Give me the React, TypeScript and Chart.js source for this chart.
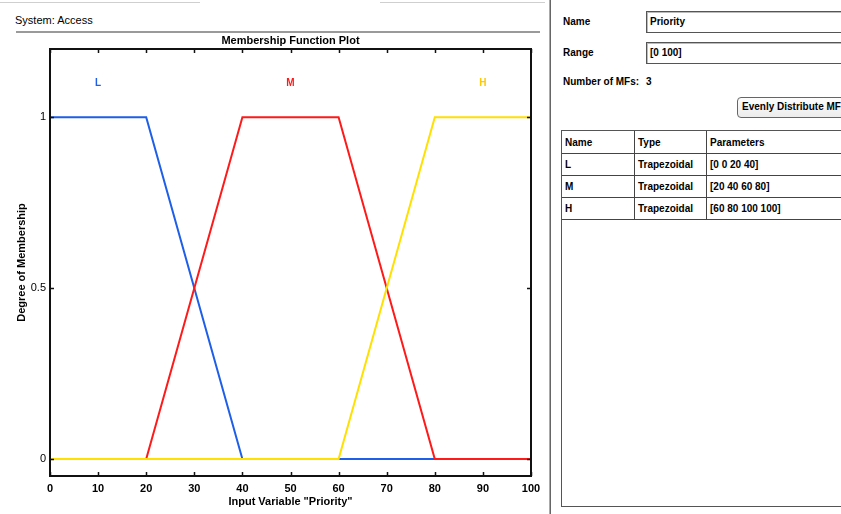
import React, { useEffect, useRef } from "react";
import { Chart, registerables } from "chart.js";

Chart.register(...registerables);

// ---- data ----
const xValues = [0, 20, 40, 60, 80, 100];
const lowValues = [1, 1, 0, 0, 0, 0];
const mediumValues = [0, 0, 1, 1, 0, 0];
const highValues = [0, 0, 0, 0, 1, 1];
const mfNames = ["L", "M", "H"];
const mfLabelX = [10, 50, 90];
const mfLabelY = 1.1;
const yTickValues = [0, 0.5, 1];
const mfTypes = ["Trapezoidal", "Trapezoidal", "Trapezoidal"];
const mfParams = ["[0 0 20 40]", "[20 40 60 80]", "[60 80 100 100]"];

const mfColors = ["#1f5fe8", "#ff1a1a", "#ffe000"];
const mfLabelColors = ["#1f5fe8", "#ff1a1a", "#ffc800"];
const FONT = "'Liberation Sans', Arial, sans-serif";

const boxPlugin = {
  id: "matlabBox",
  afterDatasetsDraw(chart: any) {
    const { ctx, chartArea: a, scales } = chart;
    const xs = scales.x;
    const ys = scales.y;
    ctx.save();
    ctx.strokeStyle = "#111";
    ctx.lineWidth = 2;
    ctx.strokeRect(a.left, a.top, a.right - a.left, a.bottom - a.top);
    ctx.lineWidth = 1.5;
    const tl = 4;
    xs.ticks.forEach((t: any) => {
      const px = Math.round(xs.getPixelForValue(t.value)) + 0.5;
      ctx.beginPath();
      ctx.moveTo(px, a.bottom);
      ctx.lineTo(px, a.bottom - tl);
      ctx.moveTo(px, a.top);
      ctx.lineTo(px, a.top + tl);
      ctx.stroke();
    });
    ys.ticks.forEach((t: any) => {
      const py = Math.round(ys.getPixelForValue(t.value)) + 0.5;
      ctx.beginPath();
      ctx.moveTo(a.left, py);
      ctx.lineTo(a.left + tl, py);
      ctx.moveTo(a.right, py);
      ctx.lineTo(a.right - tl, py);
      ctx.stroke();
    });
    // title
    ctx.fillStyle = "#000";
    ctx.font = `bold 11px ${FONT}`;
    ctx.textAlign = "center";
    ctx.textBaseline = "middle";
    ctx.fillText("Membership Function Plot", (a.left + a.right) / 2, 41);
    // MF labels
    mfNames.forEach((n, i) => {
      ctx.fillStyle = mfLabelColors[i];
      ctx.font = `bold 10px ${FONT}`;
      ctx.fillText(n, xs.getPixelForValue(mfLabelX[i]), ys.getPixelForValue(mfLabelY));
    });
    ctx.restore();
  },
};

function MFChart() {
  const ref = useRef<HTMLCanvasElement | null>(null);
  useEffect(() => {
    if (!ref.current) return;
    const mk = (vals: number[]) => xValues.map((x, i) => ({ x, y: vals[i] }));
    const chart = new Chart(ref.current, {
      type: "line",
      data: {
        datasets: [
          { label: mfNames[0], data: mk(lowValues), borderColor: mfColors[0], borderWidth: 2, pointRadius: 0, order: 3 },
          { label: mfNames[1], data: mk(mediumValues), borderColor: mfColors[1], borderWidth: 2, pointRadius: 0, order: 2 },
          { label: mfNames[2], data: mk(highValues), borderColor: mfColors[2], borderWidth: 2, pointRadius: 0, order: 1 },
        ],
      },
      options: {
        animation: false,
        responsive: false,
        devicePixelRatio: 1,
        layout: { padding: { top: 49, right: 19, left: 0, bottom: 0 } },
        plugins: { legend: { display: false }, tooltip: { enabled: false }, title: { display: false } },
        scales: {
          x: {
            type: "linear",
            min: 0,
            max: 100,
            grid: { display: false, drawTicks: false },
            border: { display: false },
            ticks: { stepSize: 10, color: "#000", font: { family: FONT, size: 11, weight: "bold" }, padding: 6, maxRotation: 0 },
            title: {
              display: true,
              text: 'Input Variable "Priority"',
              color: "#000",
              font: { family: FONT, size: 11, weight: "bold" },
              padding: { top: 0, bottom: 5 },
            },
            afterFit: (s: any) => {
              s.height = 38;
            },
          },
          y: {
            type: "linear",
            min: -0.05,
            max: 1.2,
            grid: { display: false, drawTicks: false },
            border: { display: false },
            afterBuildTicks: (s: any) => {
              s.ticks = yTickValues.map((v) => ({ value: v }));
            },
            ticks: {
              color: "#000",
              font: { family: FONT, size: 11 },
              padding: 4,
              callback: (v: any) => String(v),
            },
            title: {
              display: true,
              text: "Degree of Membership",
              color: "#000",
              font: { family: FONT, size: 11, weight: "bold" },
              padding: { top: 15, bottom: 0 },
            },
            afterFit: (s: any) => {
              s.width = 50;
            },
          },
        },
      },
      plugins: [boxPlugin],
    } as any);
    return () => chart.destroy();
  }, []);
  return <canvas ref={ref} width={550} height={514} style={{ position: "absolute", left: 0, top: 0 }} />;
}

const txt: React.CSSProperties = {
  position: "absolute",
  fontFamily: FONT,
  fontSize: 10,
  fontWeight: "bold",
  color: "#000",
  lineHeight: "12px",
  whiteSpace: "nowrap",
};

export default function App() {
  const cell: React.CSSProperties = {
    border: "1px solid #444",
    padding: "0 3px",
    height: 21,
    fontFamily: FONT,
    fontSize: 10,
    fontWeight: "bold",
    textAlign: "left",
    whiteSpace: "nowrap",
  };
  return (
    <div
      style={{
        position: "fixed",
        left: 0,
        top: 0,
        width: 841,
        height: 514,
        background: "#fff",
        overflow: "hidden",
      }}
    >
      {/* top faint lines */}
      <div style={{ position: "absolute", left: 0, top: 2, width: 200, height: 1, background: "#cfcfcf" }} />
      <div style={{ position: "absolute", left: 380, top: 2, width: 165, height: 1, background: "#cfcfcf" }} />
      <div style={{ ...txt, left: 15, top: 14, fontSize: 11, fontWeight: "normal" }}>System: Access</div>
      <div style={{ position: "absolute", left: 16, top: 31, width: 524, height: 2, background: "#9a9a9a" }} />
      <MFChart />
      {/* divider */}
      <div style={{ position: "absolute", left: 549, top: 0, width: 1, height: 514, background: "#aaa" }} />
      <div style={{ position: "absolute", left: 550, top: 0, width: 1, height: 514, background: "#666" }} />
      {/* right panel */}
      <div style={{ ...txt, left: 563, top: 16 }}>Name</div>
      <div
        style={{
          position: "absolute",
          left: 646,
          top: 11,
          width: 220,
          height: 20,
          border: "1px solid #555",
          boxShadow: "inset 1px 1px 0 #bbb",
        }}
      >
        <div style={{ ...txt, left: 3, top: 4 }}>Priority</div>
      </div>
      <div style={{ ...txt, left: 563, top: 47 }}>Range</div>
      <div
        style={{
          position: "absolute",
          left: 646,
          top: 42,
          width: 220,
          height: 20,
          border: "1px solid #555",
          boxShadow: "inset 1px 1px 0 #bbb",
        }}
      >
        <div style={{ ...txt, left: 3, top: 4 }}>[0 100]</div>
      </div>
      <div style={{ ...txt, left: 563, top: 76 }}>Number of MFs:</div>
      <div style={{ ...txt, left: 646, top: 76 }}>{mfNames.length}</div>
      <div
        style={{
          position: "absolute",
          left: 737,
          top: 97,
          width: 130,
          height: 19,
          border: "1px solid #666",
          borderRadius: 4,
          background: "linear-gradient(#fdfdfd, #ececec)",
        }}
      >
        <div style={{ ...txt, left: 4, top: 3 }}>Evenly Distribute MFs</div>
      </div>
      <div
        style={{
          position: "absolute",
          left: 561,
          top: 130,
          width: 320,
          height: 375,
          border: "1px solid #555",
          overflow: "hidden",
        }}
      >
        <table style={{ borderCollapse: "collapse", tableLayout: "fixed", width: 322, margin: "-1px 0 0 -1px" }}>
          <colgroup>
            <col style={{ width: 73 }} />
            <col style={{ width: 72 }} />
            <col style={{ width: 177 }} />
          </colgroup>
          <thead>
            <tr>
              <th style={{ ...cell, height: 22 }}>Name</th>
              <th style={{ ...cell, height: 22 }}>Type</th>
              <th style={{ ...cell, height: 22 }}>Parameters</th>
            </tr>
          </thead>
          <tbody>
            {mfNames.map((n, i) => (
              <tr key={n}>
                <td style={cell}>{n}</td>
                <td style={cell}>{mfTypes[i]}</td>
                <td style={cell}>{mfParams[i]}</td>
              </tr>
            ))}
          </tbody>
        </table>
      </div>
    </div>
  );
}
